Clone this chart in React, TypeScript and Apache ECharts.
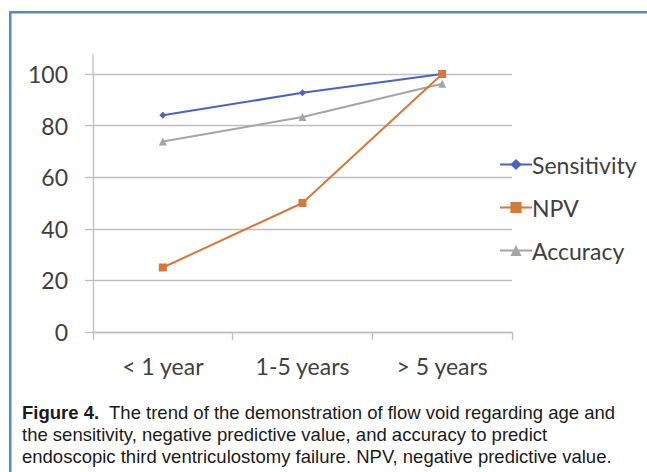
import React, { useEffect, useRef } from "react";
import * as echarts from "echarts";

const categories = ["< 1 year", "1-5 years", "> 5 years"];
const sensitivity = [84, 92.7, 100];
const npv = [25, 50, 100];
const accuracy = [73.8, 83.3, 96.2];
const yTicks = { min: 0, max: 100, interval: 20 };
const captionLines = [
  "The trend of the demonstration of flow void regarding age and",
  "the sensitivity, negative predictive value, and accuracy to predict",
  "endoscopic third ventriculostomy failure. NPV, negative predictive value.",
];
const captionLabel = "Figure 4.";

export default function App() {
  const ref = useRef<HTMLDivElement>(null);
  useEffect(() => {
    if (!ref.current) return;
    const chart = echarts.init(ref.current, null, { renderer: "svg" });
    const font = "Lato, 'Open Sans', sans-serif";
    chart.setOption({
      animation: false,
      backgroundColor: "#ffffff",
      grid: { left: 93, right: 135, top: 74, bottom: 140, containLabel: false },
      xAxis: {
        type: "category",
        data: categories,
        boundaryGap: true,
        axisLine: { lineStyle: { color: "#bfbfbf", width: 1.3 } },
        axisTick: { show: true, length: 8, alignWithLabel: false, lineStyle: { color: "#bfbfbf", width: 1.3 } },
        axisLabel: { color: "#404040", fontSize: 23, fontFamily: font, margin: 22 },
        splitLine: { show: false },
      },
      yAxis: {
        type: "value",
        min: yTicks.min,
        max: yTicks.max,
        interval: yTicks.interval,
        axisLine: { show: true, lineStyle: { color: "#bfbfbf", width: 1.3 } },
        axisTick: { show: true, length: 8, lineStyle: { color: "#bfbfbf", width: 1.3 } },
        axisLabel: { color: "#404040", fontSize: 23, fontFamily: font, margin: 25 },
        splitLine: { show: true, lineStyle: { color: "#bfbfbf", width: 1.3 } },
      },
      legend: {
        orient: "vertical",
        left: 494,
        top: 148,
        itemGap: 20,
        itemWidth: 32,
        itemHeight: 14,
        textStyle: { color: "#404040", fontSize: 23, fontFamily: font, padding: [0, 0, 0, -5] },
        data: ["Sensitivity", "NPV", "Accuracy"],
      },
      series: [
        {
          name: "Sensitivity",
          type: "line",
          data: sensitivity,
          symbol: "diamond",
          symbolSize: 7,
          lineStyle: { color: "#4a62c6", width: 2 },
          itemStyle: { color: "#4a62c6" },
        },
        {
          name: "NPV",
          type: "line",
          data: npv,
          symbol: "rect",
          symbolSize: 8,
          lineStyle: { color: "#d5783a", width: 2 },
          itemStyle: { color: "#d5783a" },
          z: 3,
        },
        {
          name: "Accuracy",
          type: "line",
          data: accuracy,
          symbol: "triangle",
          symbolSize: 8,
          lineStyle: { color: "#a5a5a5", width: 2 },
          itemStyle: { color: "#a5a5a5" },
          z: 1,
        },
      ],
      graphic: [
        { type: "line", shape: { x1: 93, y1: 54, x2: 93, y2: 74 }, style: { stroke: "#bfbfbf", lineWidth: 1.3 } },
        { type: "rect", shape: { x: 9, y: 11, width: 640, height: 2.5 }, style: { fill: "#4f8acb" } },
        { type: "rect", shape: { x: 9, y: 11, width: 2.5, height: 470 }, style: { fill: "#4f8acb" } },
        {
          type: "text",
          x: 22,
          y: 401,
          style: {
            text: "{b|" + captionLabel + "}{r|  " + captionLines[0] + "}\n{r|" + captionLines[1] + "}\n{r|" + captionLines[2] + "}",
            rich: {
              b: { fontFamily: "'Liberation Sans Narrow', 'Liberation Sans', sans-serif", fontWeight: "bold", fontSize: 18.5, fill: "#1a1a1a", lineHeight: 22 },
              r: { fontFamily: "'Liberation Sans', Arial, sans-serif", fontSize: 18.5, fill: "#1a1a1a", lineHeight: 22 },
            },
          },
        },
      ],
    });
    return () => chart.dispose();
  }, []);
  return (
    <div style={{ position: "absolute", left: 0, top: 0, width: 647, height: 472 }}>
      <div ref={ref} style={{ width: 647, height: 472 }} />
    </div>
  );
}
